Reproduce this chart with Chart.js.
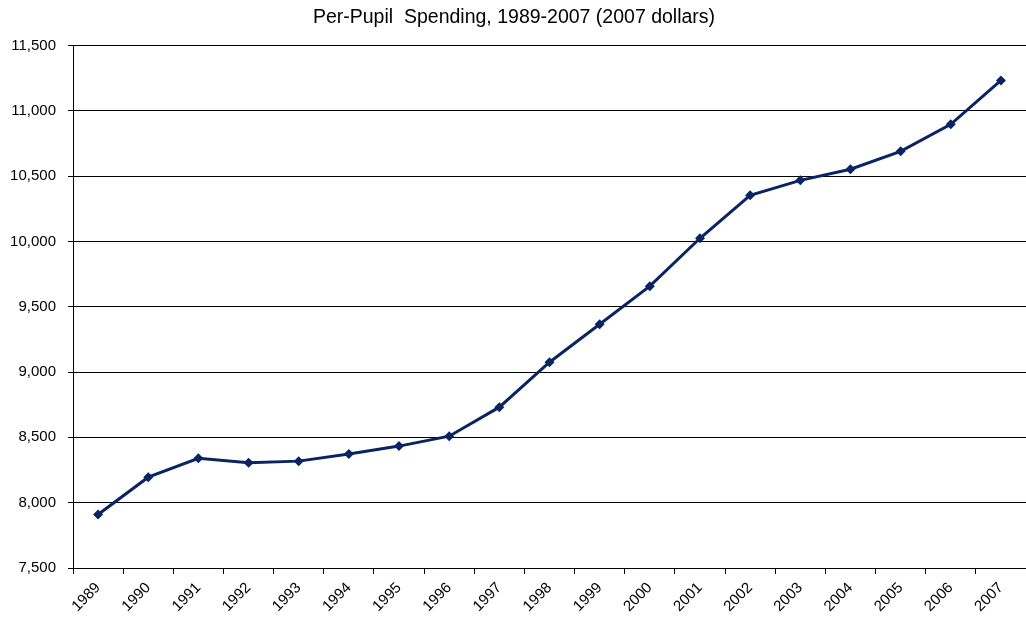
<!DOCTYPE html>
<html>
<head>
<meta charset="utf-8">
<script src="https://cdn.jsdelivr.net/npm/chart.js@4"></script>
<style>
html,body{margin:0;padding:0;background:#fff;}
#wrap{width:1026px;height:622px;}
</style>
</head>
<body>
<div id="wrap"><canvas id="c" width="1026" height="622"></canvas></div>
<script>
const years = ["1989","1990","1991","1992","1993","1994","1995","1996","1997","1998","1999","2000","2001","2002","2003","2004","2005","2006","2007"];
const spending = [7910,8195,8340,8305,8318,8372,8433,8509,8731,9075,9366,9657,10024,10353,10467,10552,10689,10896,11232];
const yMin = 7500, yMax = 11500, yStep = 500;
const titleText = "Per-Pupil  Spending, 1989-2007 (2007 dollars)";

Chart.defaults.font.family = "'Liberation Sans', Arial, sans-serif";
Chart.defaults.color = "#000";

new Chart(document.getElementById('c'), {
  type: 'line',
  data: {
    labels: years,
    datasets: [{
      data: spending,
      borderColor: '#0a2463',
      backgroundColor: '#0a2463',
      borderWidth: 3,
      pointStyle: 'rectRot',
      pointRadius: 5,
      pointBorderWidth: 0,
      tension: 0,
      fill: false
    }]
  },
  options: {
    responsive: false,
    animation: false,
    layout: { autoPadding: false, padding: { left: 0, right: -2, top: 0, bottom: 0 } },
    plugins: {
      legend: { display: false },
      tooltip: { enabled: false },
      title: {
        display: true,
        text: titleText,
        font: { size: 19.5, weight: 'normal' },
        color: '#000',
        padding: { top: 6, bottom: 16 }
      }
    },
    scales: {
      x: {
        offset: true,
        grid: { display: true, drawOnChartArea: false, drawTicks: true, tickLength: 6, color: '#000', offset: true },
        border: { display: true, color: '#000', width: 1 },
        ticks: { minRotation: 45, maxRotation: 45, autoSkip: false, font: { size: 15 }, padding: 5 },
        afterFit(s) { s.height = 54; s.paddingRight = 0; s.paddingLeft = 0; }
      },
      y: {
        min: yMin, max: yMax,
        grid: { color: '#000', lineWidth: 1, tickLength: 5 },
        border: { display: true, color: '#000', width: 1 },
        ticks: { stepSize: yStep, font: { size: 15 }, padding: 12,
          callback: v => v.toLocaleString('en-US') },
        afterFit(s) { s.width = 73; }
      }
    }
  }
});
</script>
</body>
</html>
